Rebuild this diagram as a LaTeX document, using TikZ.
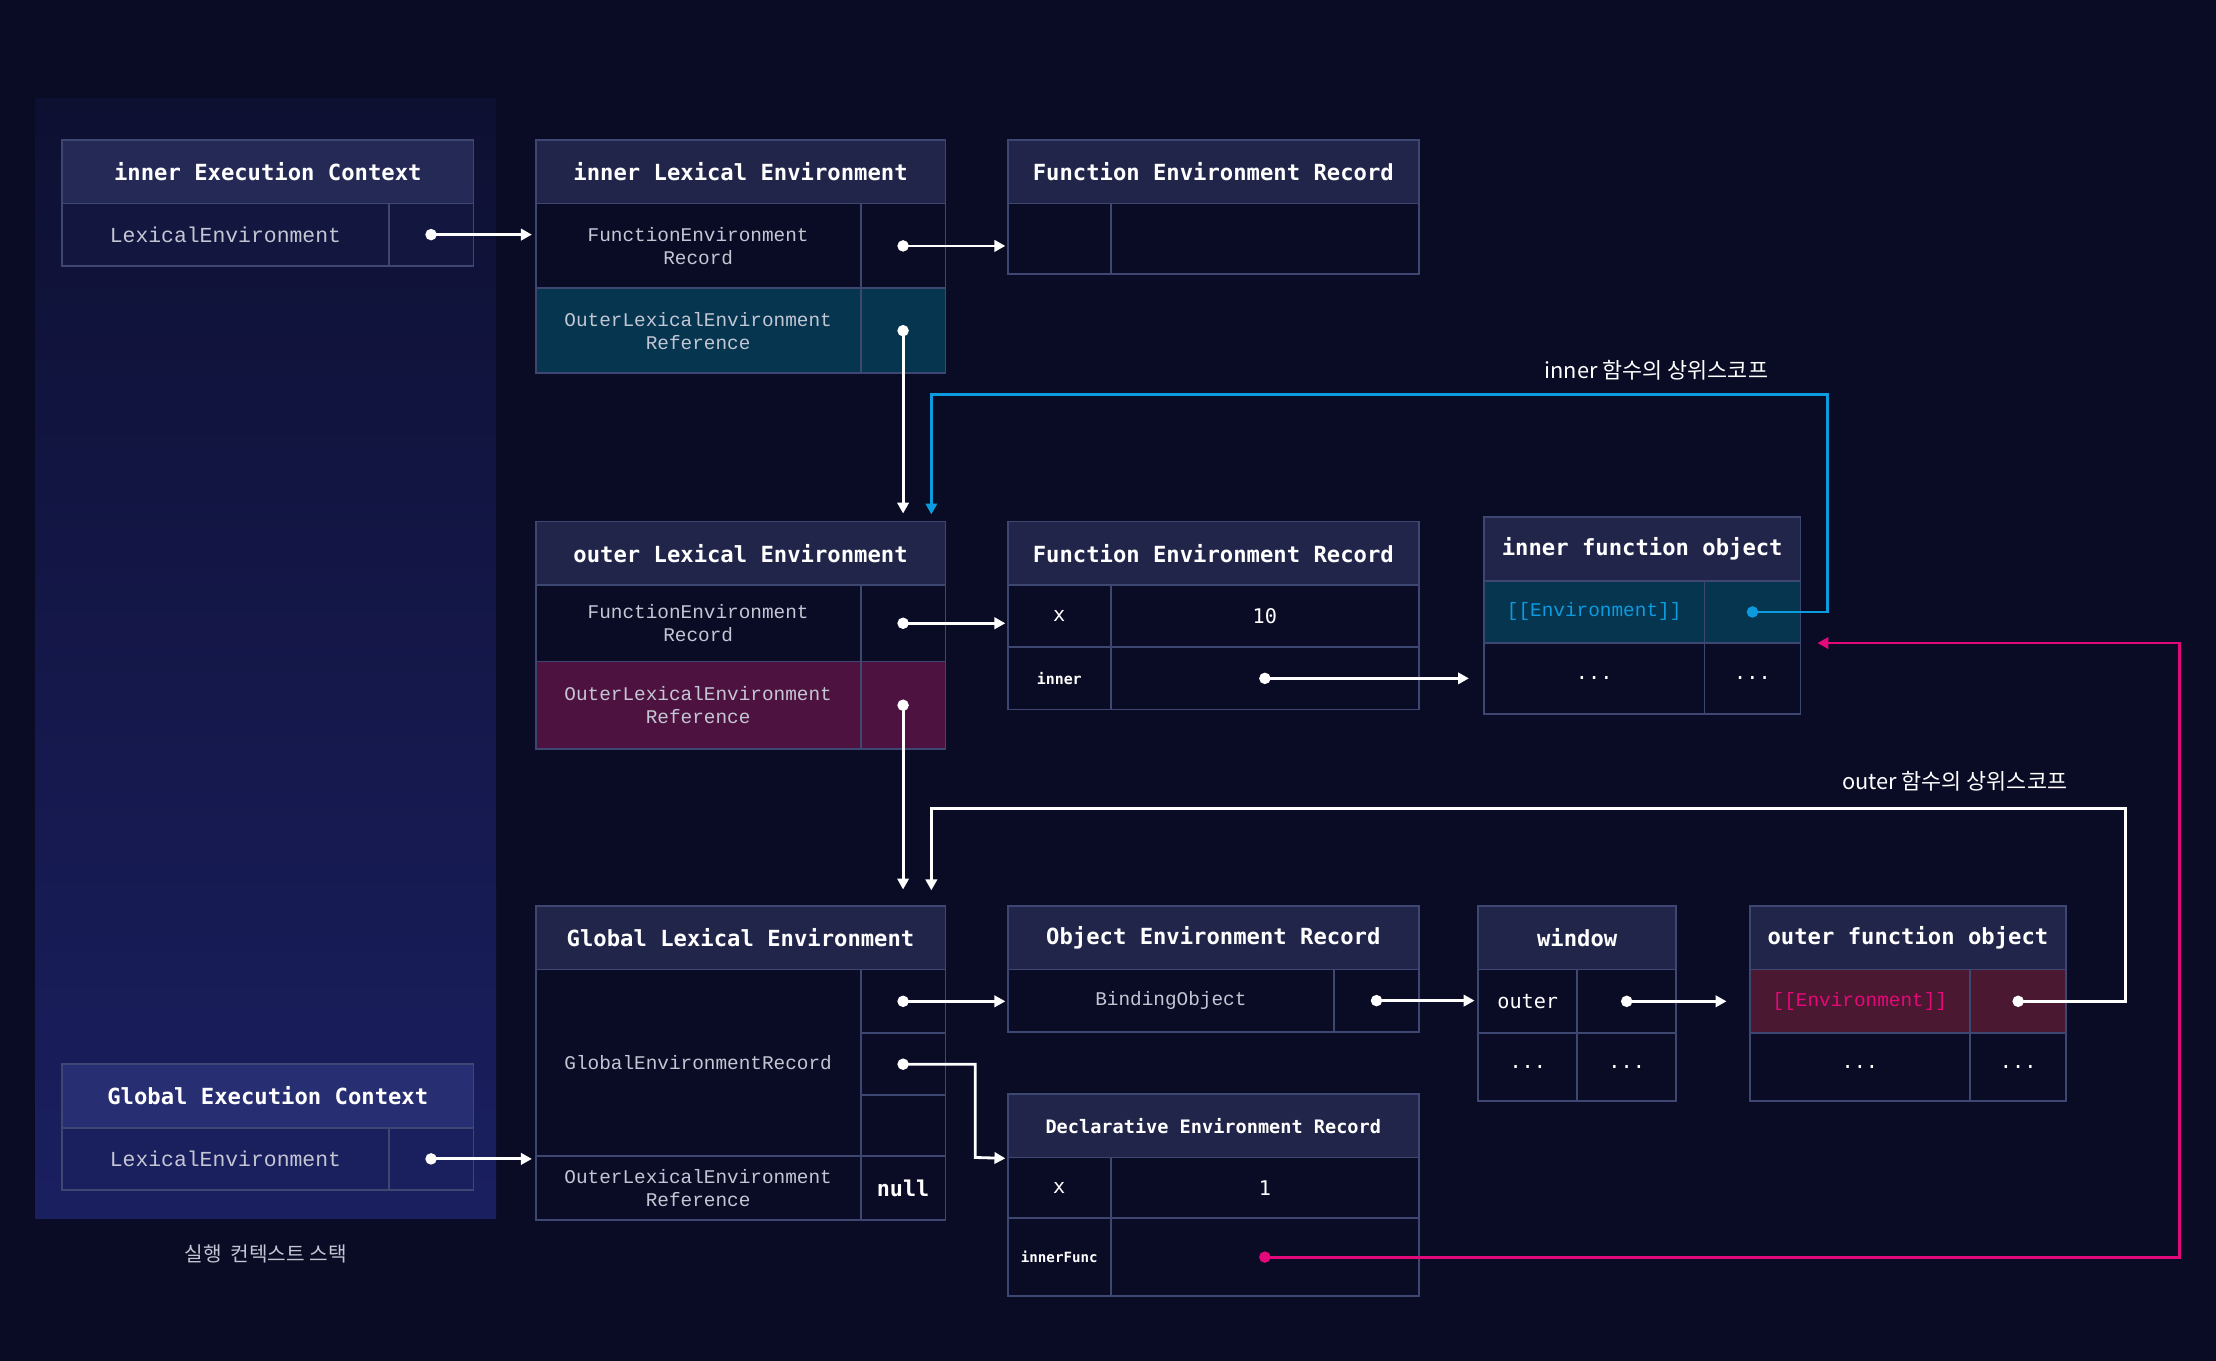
\documentclass[tikz,border=0pt]{standalone}
\usepackage{fontspec}
\setmainfont{DejaVu Sans}
\newfontfamily\headfont{DejaVu Sans Mono}
\newfontfamily\cellfont{Liberation Mono}
\newfontfamily\krfont{Noto Sans CJK KR}
\usetikzlibrary{arrows.meta}
\definecolor{bg}{HTML}{0A0B25}
\definecolor{hdfill}{HTML}{22254A}
\definecolor{bordc}{HTML}{3E4672}
\definecolor{celltext}{HTML}{C4C6D4}
\definecolor{tealc}{HTML}{05354F}
\definecolor{maroonA}{HTML}{4E1240}
\definecolor{maroonB}{HTML}{4A1830}
\definecolor{bluec}{HTML}{0D9BE0}
\definecolor{magc}{HTML}{E3097A}
\definecolor{stacktop}{HTML}{0E1032}
\definecolor{stackbot}{HTML}{1A1F60}
\definecolor{ecHeadA}{HTML}{242956}
\definecolor{ecRowA}{HTML}{13163F}
\definecolor{ecHeadB}{HTML}{282E72}
\definecolor{ecRowB}{HTML}{1A1F5E}
\newcommand\cellbox[7]{%
  \pgfmathsetmacro\cellW{(#4-#2)*0.7}\pgfmathsetmacro\cellH{(#5-#3)*0.7}%
  \node[#6, minimum width=\cellW pt, minimum height=\cellH pt] (#1) at ({(#2+#4)/2},{(#3+#5)/2}) {#7};}
\tikzset{
  hd/.style={draw=bordc, line width=0.9pt, fill=hdfill, text=white, inner sep=0pt,
    font=\headfont\bfseries\fontsize{11}{13}\selectfont},
  cl/.style={draw=bordc, line width=0.9pt, fill=bg, text=celltext, inner sep=0pt, align=center,
    font=\cellfont\fontsize{9.6}{11.3}\selectfont},
  wv/.style={text=white, font=\headfont\fontsize{10}{12}\selectfont},
  link/.style={draw=white, line width=1.4pt, {Circle[length=5.6pt,sep=-2.8pt]}-{Triangle[length=5.4pt,width=5.6pt]}},
  bluelink/.style={link, draw=bluec, {Circle[length=5.6pt,sep=-2.8pt,fill=bluec]}-{Triangle[length=5.4pt,width=5.6pt,fill=bluec]}},
  maglink/.style={link, draw=magc, {Circle[length=5.6pt,sep=-2.8pt,fill=magc]}-{Triangle[length=5.4pt,width=5.6pt,fill=magc]}},
  lbl/.style={text=white, font=\krfont\fontsize{10.8}{12}\selectfont}
}
\begin{document}
\begin{tikzpicture}[x=0.7pt,y=-0.7pt]
\fill[bg] (0,0) rectangle (1568,963);
\useasboundingbox (0,0) rectangle (1568,963);
% stack panel
\shade[top color=stacktop, bottom color=stackbot] (25,70) rectangle (351,862);

% inner Execution Context
\cellbox{A-h}{44}{99}{335}{144}{hd, fill=ecHeadA}{inner Execution Context}
\cellbox{A-l}{44}{144}{275}{188}{cl, fill=ecRowA, font=\cellfont\fontsize{10.6}{12}\selectfont}{LexicalEnvironment}
\cellbox{A-r}{275}{144}{335}{188}{cl, fill=ecRowA}{}

% inner Lexical Environment
\cellbox{B-h}{379}{99}{669}{144}{hd}{inner Lexical Environment}
\cellbox{B-1l}{379}{144}{609}{204}{cl}{FunctionEnvironment\\Record}
\cellbox{B-1r}{609}{144}{669}{204}{cl}{}
\cellbox{B-2l}{379}{204}{609}{264}{cl, fill=tealc}{OuterLexicalEnvironment\\Reference}
\cellbox{B-2r}{609}{204}{669}{264}{cl, fill=tealc}{}

% Function Environment Record (top)
\cellbox{C-h}{713}{99}{1004}{144}{hd}{Function Environment Record}
\cellbox{C-l}{713}{144}{786}{194}{cl}{}
\cellbox{C-r}{786}{144}{1004}{194}{cl}{}

% outer Lexical Environment
\cellbox{D-h}{379}{369}{669}{414}{hd}{outer Lexical Environment}
\cellbox{D-1l}{379}{414}{609}{468}{cl}{FunctionEnvironment\\Record}
\cellbox{D-1r}{609}{414}{669}{468}{cl}{}
\cellbox{D-2l}{379}{468}{609}{530}{cl, fill=maroonA}{OuterLexicalEnvironment\\Reference}
\cellbox{D-2r}{609}{468}{669}{530}{cl, fill=maroonA}{}

% Function Environment Record (mid)
\cellbox{E-h}{713}{369}{1004}{414}{hd}{Function Environment Record}
\cellbox{E-1l}{713}{414}{786}{458}{cl, wv}{x}
\cellbox{E-1r}{786}{414}{1004}{458}{cl, wv}{10}
\cellbox{E-2l}{713}{458}{786}{502}{cl, text=white, font=\headfont\bfseries\fontsize{7.4}{9}\selectfont}{inner}
\cellbox{E-2r}{786}{458}{1004}{502}{cl}{}

% inner function object
\cellbox{F-h}{1050}{366}{1274}{411}{hd}{inner function object}
\cellbox{F-1l}{1050}{411}{1206}{455}{cl, fill=tealc, text=bluec, font=\cellfont\fontsize{9.6}{11}\selectfont}{[[Environment]]}
\cellbox{F-1r}{1206}{411}{1274}{455}{cl, fill=tealc}{}
\cellbox{F-2l}{1050}{455}{1206}{505}{cl, wv}{...}
\cellbox{F-2r}{1206}{455}{1274}{505}{cl, wv}{...}

% Global Lexical Environment
\cellbox{G-h}{379}{641}{669}{686}{hd}{Global Lexical Environment}
\cellbox{G-l}{379}{686}{609}{818}{cl}{GlobalEnvironmentRecord}
\cellbox{G-r1}{609}{686}{669}{731}{cl}{}
\cellbox{G-r2}{609}{731}{669}{775}{cl}{}
\cellbox{G-r3}{609}{775}{669}{818}{cl}{}
\cellbox{G-ol}{379}{818}{609}{863}{cl}{OuterLexicalEnvironment\\Reference}
\cellbox{G-or}{609}{818}{669}{863}{cl, text=white, font=\headfont\bfseries\fontsize{10.8}{12}\selectfont}{null}

% Object Environment Record
\cellbox{H-h}{713}{641}{1004}{686}{hd}{Object Environment Record}
\cellbox{H-l}{713}{686}{944}{730}{cl}{BindingObject}
\cellbox{H-r}{944}{686}{1004}{730}{cl}{}

% window
\cellbox{I-h}{1046}{641}{1186}{686}{hd}{window}
\cellbox{I-1l}{1046}{686}{1116}{731}{cl, wv}{outer}
\cellbox{I-1r}{1116}{686}{1186}{731}{cl}{}
\cellbox{I-2l}{1046}{731}{1116}{779}{cl, wv}{...}
\cellbox{I-2r}{1116}{731}{1186}{779}{cl, wv}{...}

% outer function object
\cellbox{J-h}{1238}{641}{1462}{686}{hd}{outer function object}
\cellbox{J-1l}{1238}{686}{1394}{731}{cl, fill=maroonB, text=magc, font=\cellfont\fontsize{9.6}{11}\selectfont}{[[Environment]]}
\cellbox{J-1r}{1394}{686}{1462}{731}{cl, fill=maroonB}{}
\cellbox{J-2l}{1238}{731}{1394}{779}{cl, wv}{...}
\cellbox{J-2r}{1394}{731}{1462}{779}{cl, wv}{...}

% Declarative Environment Record
\cellbox{K-h}{713}{774}{1004}{819}{hd, font=\headfont\bfseries\fontsize{9.2}{11}\selectfont}{Declarative Environment Record}
\cellbox{K-1l}{713}{819}{786}{862}{cl, wv}{x}
\cellbox{K-1r}{786}{819}{1004}{862}{cl, wv}{1}
\cellbox{K-2l}{713}{862}{786}{917}{cl, text=white, font=\headfont\bfseries\fontsize{7}{9}\selectfont}{innerFunc}
\cellbox{K-2r}{786}{862}{1004}{917}{cl}{}

% Global Execution Context
\cellbox{L-h}{44}{753}{335}{798}{hd, fill=ecHeadB}{Global Execution Context}
\cellbox{L-l}{44}{798}{275}{842}{cl, fill=ecRowB, font=\cellfont\fontsize{10.6}{12}\selectfont}{LexicalEnvironment}
\cellbox{L-r}{275}{798}{335}{842}{cl, fill=ecRowB}{}

% labels
\node[lbl] (lblInner) at (1172,262) {inner 함수의 상위스코프};
\node[lbl] (lblOuter) at (1383,553) {outer 함수의 상위스코프};
\node[lbl, text=celltext, font=\krfont\fontsize{10}{12}\selectfont] (lblStack) at (188,887) {실행~~컨텍스트 스택};

% connector corner points
\coordinate (blueTop) at (1293,279);
\coordinate (blueDrop) at (659,364);
\coordinate (whiteTop) at (1504,572);
\coordinate (whiteDrop) at (659,630);
\coordinate (gBend) at (690,819);
\coordinate (magCorner) at (1542,455);
\coordinate (magEnd) at (1286,455);

% connectors
\draw[link, shorten >=1.4pt] (A-r.center) -- (A-r.center -| B-1l.west);
\draw[link, shorten >=0.7pt] (B-1r.center) -- (B-1r.center -| C-l.west);
\draw[link, shorten >=3.5pt] (B-2r.center) -- (B-2r.center |- D-h.north);
\draw[bluelink] (F-1r.center) -| (blueTop) -| (blueDrop);
\draw[link, shorten >=0.7pt] (D-1r.center) -- (D-1r.center -| E-1l.west);
\draw[link, shorten >=7pt] (E-2r.center) -- (E-2r.center -| F-2l.west);
\draw[link, shorten >=7.7pt] (D-2r.center) -- (D-2r.center |- G-h.north);
\draw[link] (J-1r.center) -| (whiteTop) -| (whiteDrop);
\draw[link, shorten >=0.7pt] (G-r1.center) -- (G-r1.center -| H-l.west);
\draw[link, shorten >=0.7pt] (G-r2.center) -| (gBend) -- (K-h.south west);
\draw[link, shorten >=1.4pt] (L-r.center) -- (L-r.center -| G-ol.west);
\draw[link, shorten >=1.4pt] (H-r.center) -- (H-r.center -| I-1l.west);
\draw[link, shorten >=11pt] (I-1r.center) -- (I-1r.center -| J-1l.west);
\draw[maglink] (K-2r.center) -| (magCorner) -- (magEnd);
\end{tikzpicture}
\end{document}
